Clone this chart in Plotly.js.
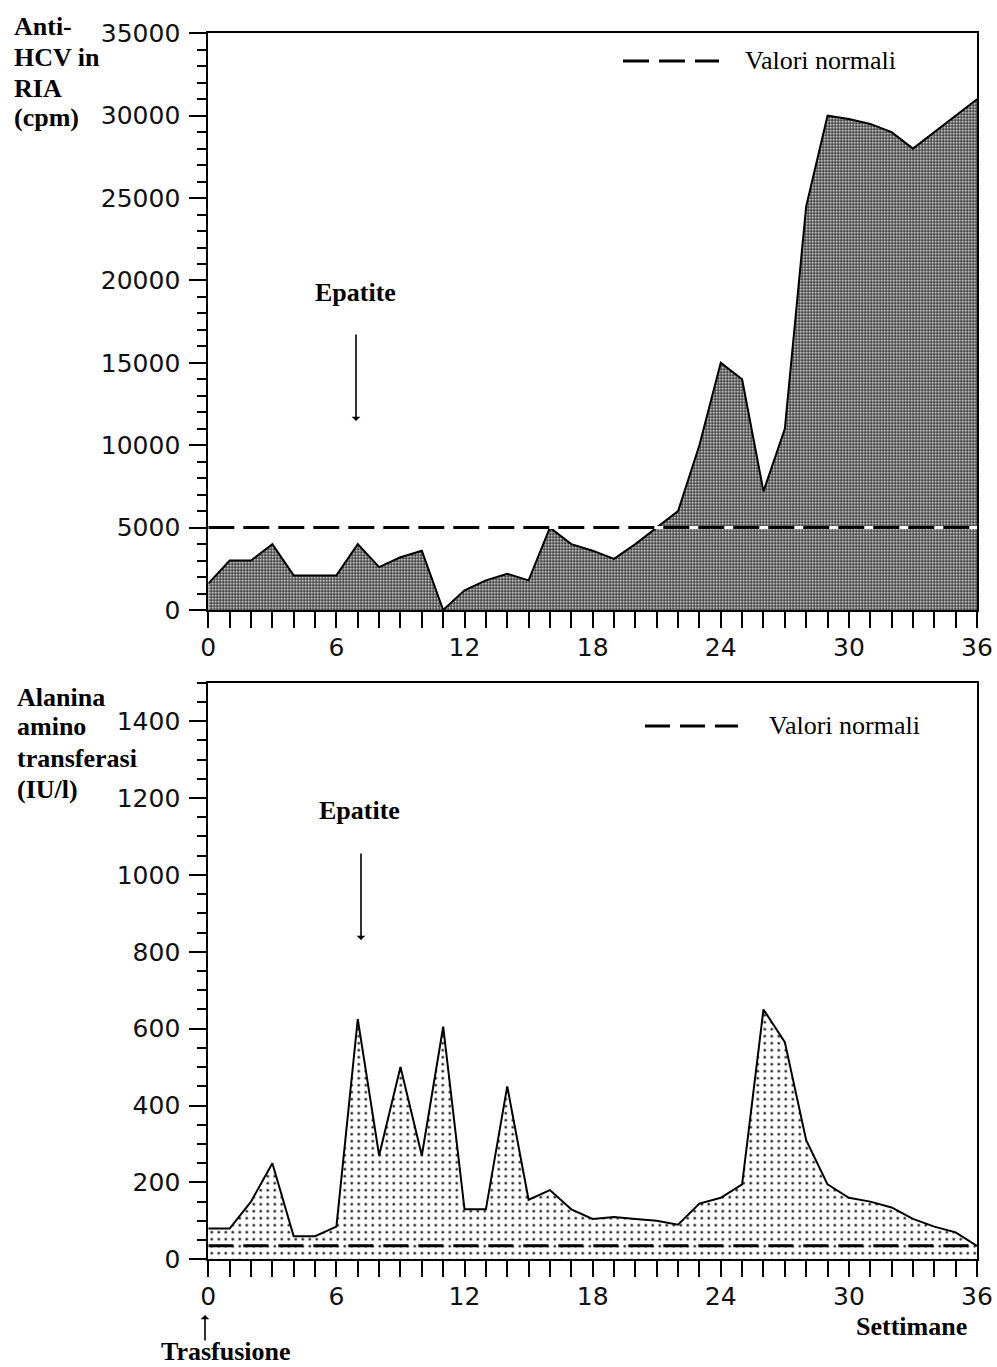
<!DOCTYPE html>
<html>
<head>
<meta charset="utf-8">
<script src="https://cdn.plot.ly/plotly-3.0.1.min.js"></script>
<style>
  html, body { margin: 0; padding: 0; background: #ffffff; }
  #chart { width: 997px; height: 1367px; }
</style>
</head>
<body>
<div id="chart"></div>
<script>
// ---- Data ----
var weeks = [0,1,2,3,4,5,6,7,8,9,10,11,12,13,14,15,16,17,18,19,20,21,22,23,24,25,26,27,28,29,30,31,32,33,34,35,36];

// Anti-HCV in RIA (cpm)
var antiHCV = [1600,3000,3000,4000,2100,2100,2100,4000,2600,3200,3600,0,1200,1800,2200,1800,5000,4000,3600,3100,4000,5000,6000,10000,15000,14000,7200,11000,24500,30000,29800,29500,29000,28000,29000,30000,31000];

// Alanina amino transferasi (IU/l)
var alt = [80,80,150,250,60,60,85,625,270,500,270,605,130,130,450,155,180,130,105,110,105,100,90,145,160,195,650,565,310,195,160,150,135,105,85,70,35];

// Normal values (reference lines)
var normalHCV = 5000;
var normalALT = 35;

var xTickVals = [0,6,12,18,24,30,36];
var xTickText = ['0','6','12','18','24','30','36'];
var yTopTicks = [0,5000,10000,15000,20000,25000,30000,35000];
var yTopText = ['0','5000','10000','15000','20000','25000','30000','35000'];
var yBotTicks = [0,200,400,600,800,1000,1200,1400];
var yBotText = ['0','200','400','600','800','1000','1200','1400'];

// ---- Layout helpers (page pixels -> paper fraction) ----
var W = 997, H = 1367;
function px(x) { return x / W; }
function py(y) { return 1 - y / H; }

var tickFont = { family: 'DejaVu Sans', size: 25, color: '#111111' };
var serif = 'Liberation Serif, Times New Roman, serif';

function xAxisDef(anchor) {
  return {
    anchor: anchor,
    domain: [px(208.3), px(977)],
    range: [0, 36],
    showgrid: false, zeroline: false,
    showline: true, linecolor: '#000', linewidth: 2, mirror: true,
    ticks: 'outside', ticklen: 16, tickwidth: 2, tickcolor: '#000',
    tickmode: 'array', tickvals: xTickVals, ticktext: xTickText,
    tickfont: tickFont, ticklabelstandoff: -2,
    minor: { dtick: 1, tick0: 0, ticks: 'outside', ticklen: 16, tickwidth: 2, tickcolor: '#000', showgrid: false },
    fixedrange: true
  };
}
function yAxisDef(anchor, domain, range, tickvals, ticktext, minorStep) {
  return {
    anchor: anchor,
    domain: domain,
    range: range,
    showgrid: false, zeroline: false,
    showline: true, linecolor: '#000', linewidth: 2, mirror: true,
    ticks: 'outside', ticklen: 17, tickwidth: 2, tickcolor: '#000',
    tickmode: 'array', tickvals: tickvals, ticktext: ticktext,
    tickfont: tickFont, ticklabelstandoff: 4,
    minor: { dtick: minorStep, tick0: 0, ticks: 'outside', ticklen: 9, tickwidth: 2, tickcolor: '#000', showgrid: false },
    fixedrange: true
  };
}

var traces = [
  {
    x: weeks, y: antiHCV, xaxis: 'x', yaxis: 'y',
    type: 'scatter', mode: 'lines', fill: 'tozeroy',
    line: { color: '#000', width: 2 },
    fillcolor: '#6e6e6e',
    fillpattern: { shape: '.', bgcolor: '#353535', fgcolor: '#ffffff', size: 3, solidity: 0.35 },
    showlegend: false, hoverinfo: 'skip'
  },
  {
    x: [weeks[0], weeks[weeks.length-1]], y: [normalHCV, normalHCV], xaxis: 'x', yaxis: 'y',
    type: 'scatter', mode: 'lines',
    line: { color: '#ffffff', width: 3 },
    showlegend: false, hoverinfo: 'skip'
  },
  {
    x: [weeks[0], weeks[weeks.length-1]], y: [normalHCV, normalHCV], xaxis: 'x', yaxis: 'y',
    type: 'scatter', mode: 'lines',
    line: { color: '#000', width: 3, dash: '26px,9px' },
    showlegend: false, hoverinfo: 'skip'
  },
  {
    x: weeks, y: alt, xaxis: 'x2', yaxis: 'y2',
    type: 'scatter', mode: 'lines', fill: 'tozeroy',
    line: { color: '#000', width: 2 },
    fillcolor: '#ffffff',
    fillpattern: { shape: '.', bgcolor: '#ffffff', fgcolor: '#000000', size: 7, solidity: 0.1 },
    showlegend: false, hoverinfo: 'skip'
  },
  {
    x: [weeks[0], weeks[weeks.length-1]], y: [normalALT, normalALT], xaxis: 'x2', yaxis: 'y2',
    type: 'scatter', mode: 'lines',
    line: { color: '#000', width: 3, dash: '25px,10px' },
    showlegend: false, hoverinfo: 'skip'
  }
];

function txt(text, x, y, opts) {
  opts = opts || {};
  return {
    xref: 'paper', yref: 'paper', x: px(x), y: py(y),
    text: text, showarrow: false,
    xanchor: opts.xanchor || 'left', yanchor: opts.yanchor || 'middle',
    font: { family: serif, size: opts.size || 26, color: '#000' }
  };
}
function arrow(x, yHead, dy) {
  return {
    xref: 'paper', yref: 'paper', x: px(x), y: py(yHead),
    ax: 0, ay: dy, text: '', showarrow: true,
    arrowhead: 1, arrowsize: 0.9, arrowwidth: 1.6, arrowcolor: '#000'
  };
}

var annotations = [
  // top y title
  txt('<b>Anti-</b>', 12, 27),
  txt('<b>HCV in</b>', 12, 57),
  txt('<b>RIA</b>', 12, 88),
  txt('<b>(cpm)</b>', 12, 118),
  // bottom y title
  txt('<b>Alanina</b>', 15, 697),
  txt('<b>amino</b>', 15, 727),
  txt('<b>transferasi</b>', 15, 758),
  txt('<b>(IU/l)</b>', 15, 789),
  // Epatite labels and arrows
  txt('<b>Epatite</b>', 355, 292, { xanchor: 'center' }),
  arrow(356, 421, -88),
  txt('<b>Epatite</b>', 359, 811, { xanchor: 'center' }),
  arrow(361, 940, -88),
  // legend texts
  txt('Valori normali', 743, 60),
  txt('Valori normali', 767, 725),
  // bottom labels
  txt('<b>Settimane</b>', 911, 1326, { xanchor: 'center' }),
  txt('<b>Trasfusione</b>', 226, 1351, { xanchor: 'center' }),
  arrow(205, 1315, 27)
];

var shapes = [
  { type: 'line', xref: 'paper', yref: 'paper', x0: px(623), x1: px(719), y0: py(61), y1: py(61),
    line: { color: '#000', width: 3, dash: '26px,10px' } },
  { type: 'line', xref: 'paper', yref: 'paper', x0: px(645), x1: px(738), y0: py(726), y1: py(726),
    line: { color: '#000', width: 3, dash: '25px,10px' } }
];

var layout = {
  width: W, height: H,
  margin: { l: 0, r: 0, t: 0, b: 0, pad: 0 },
  paper_bgcolor: '#ffffff', plot_bgcolor: '#ffffff',
  showlegend: false,
  xaxis: xAxisDef('y'),
  yaxis: yAxisDef('x', [py(610), py(33.3)], [0, 35000], yTopTicks, yTopText, 1000),
  xaxis2: xAxisDef('y2'),
  yaxis2: yAxisDef('x2', [py(1259.3), py(682.7)], [0, 1500], yBotTicks, yBotText, 50),
  annotations: annotations,
  shapes: shapes
};

Plotly.newPlot('chart', traces, layout, { staticPlot: true, displayModeBar: false });
</script>
</body>
</html>
